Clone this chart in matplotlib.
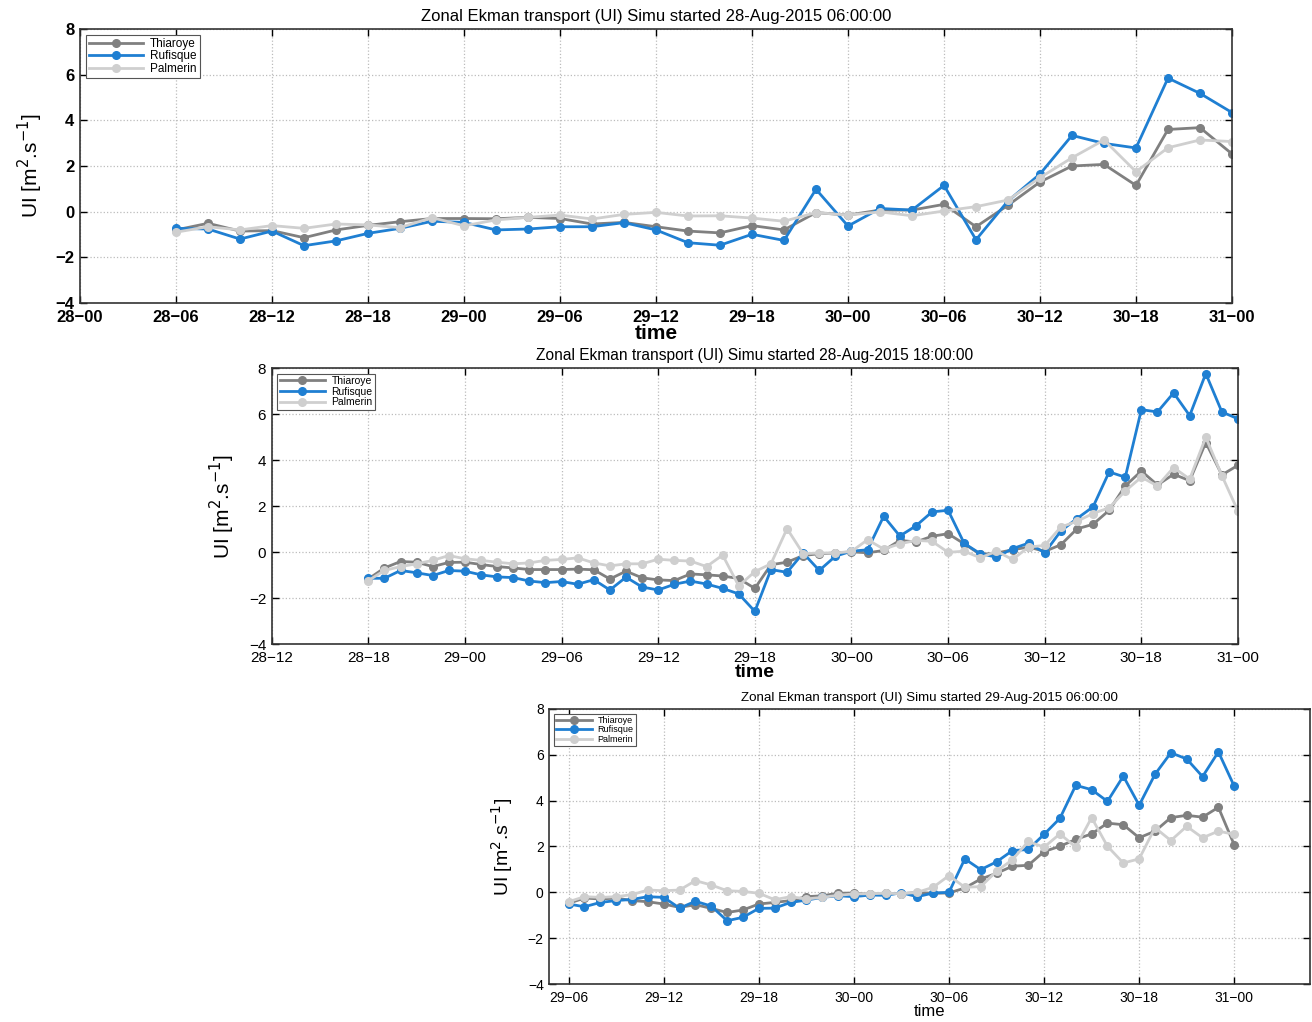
import numpy as np
import matplotlib
matplotlib.use('Agg')
import matplotlib.pyplot as plt

plt.rcParams['font.family'] = ['Liberation Sans', 'DejaVu Sans']

# station names and colours
stations = ['Thiaroye', 'Rufisque', 'Palmerin']
colors = ['#808080', '#1f7fd2', '#cfcfcf']

# tick labels (hours counted from 28-Aug 00:00)
tick_hours = [0, 6, 12, 18, 24, 30, 36, 42, 48, 54, 60, 66, 72]
tick_labels = ['28-00', '28-06', '28-12', '28-18', '29-00', '29-06', '29-12',
               '29-18', '30-00', '30-06', '30-12', '30-18', '31-00']

# run 1: started 28-Aug 06:00, output every 2 h
hours_1 = np.arange(6, 73, 2)
thiaroye_1 = [-0.8, -0.51, -0.85, -0.83, -1.14, -0.8, -0.6, -0.44, -0.3, -0.3,
              -0.31, -0.25, -0.3, -0.54, -0.47, -0.66, -0.85, -0.93, -0.61, -0.8,
              -0.04, -0.15, 0.07, 0.07, 0.32, -0.66, 0.28, 1.3, 2.0, 2.07,
              1.15, 3.6, 3.68, 2.53]
rufisque_1 = [-0.73, -0.76, -1.2, -0.85, -1.49, -1.28, -0.95, -0.73, -0.42, -0.47,
              -0.8, -0.76, -0.66, -0.66, -0.48, -0.8, -1.36, -1.47, -0.99, -1.26,
              0.98, -0.63, 0.14, 0.07, 1.15, -1.23, 0.47, 1.65, 3.34, 2.99,
              2.79, 5.85, 5.18, 4.34]
palmerin_1 = [-0.9, -0.66, -0.8, -0.61, -0.73, -0.54, -0.58, -0.7, -0.26, -0.62,
              -0.36, -0.25, -0.15, -0.32, -0.12, -0.03, -0.19, -0.18, -0.28, -0.42,
              -0.04, -0.15, -0.01, -0.18, 0.03, 0.22, 0.51, 1.49, 2.36, 3.14,
              1.75, 2.8, 3.14, 3.07]

# run 2: started 28-Aug 18:00, hourly
hours_2 = np.arange(18, 73, 1)
thiaroye_2 = [-1.17, -0.69, -0.41, -0.44, -0.63, -0.45, -0.44, -0.54, -0.63, -0.69,
              -0.76, -0.76, -0.76, -0.74, -0.77, -1.17, -0.83, -1.12, -1.21, -1.24,
              -0.95, -0.99, -1.04, -1.15, -1.58,
              -0.55, -0.44, -0.15, -0.07, -0.04, 0.01, -0.03, 0.07, 0.51, 0.44,
              0.69, 0.8, 0.36, -0.1, -0.04, 0.1, 0.22, 0.03, 0.32, 1.01,
              1.21, 1.82, 2.88, 3.53, 2.92, 3.39, 3.11, 4.77, 3.36, 3.78]
rufisque_2 = [-1.14, -1.14, -0.8, -0.9, -1.02, -0.8, -0.83, -0.99, -1.08, -1.11,
              -1.26, -1.33, -1.28, -1.4, -1.2, -1.65, -1.09, -1.52, -1.65, -1.4,
              -1.26, -1.39, -1.58, -1.82, -2.58,
              -0.76, -0.88, -0.04, -0.8, -0.18, 0.04, 0.1, 1.56, 0.7, 1.14,
              1.75, 1.82, 0.38, -0.07, -0.22, 0.15, 0.39, -0.03, 0.92, 1.46,
              1.97, 3.49, 3.26, 6.2, 6.1, 6.93, 5.94, 7.77, 6.1, 5.8]
palmerin_2 = [-1.24, -0.8, -0.63, -0.51, -0.36, -0.15, -0.29, -0.36, -0.44, -0.51,
              -0.47, -0.36, -0.32, -0.25, -0.47, -0.6, -0.51, -0.51, -0.31, -0.36,
              -0.39, -0.63, -0.13, -1.47, -0.85,
              -0.51, 1.02, -0.07, -0.04, -0.04, 0.03, 0.54, 0.13, 0.36, 0.51,
              0.47, -0.01, 0.04, -0.25, 0.04, -0.32, 0.22, 0.29, 1.09, 1.34,
              1.68, 1.93, 2.66, 3.26, 2.88, 3.68, 3.18, 5.0, 3.33, 1.78]

# run 3: started 29-Aug 06:00, hourly
hours_3 = np.arange(30, 73, 1)
thiaroye_3 = [-0.48, -0.25, -0.29, -0.25, -0.36, -0.41, -0.51, -0.66, -0.54, -0.7,
              -0.88, -0.77, -0.51, -0.44, -0.36, -0.19, -0.15, -0.04, -0.03, -0.09,
              -0.04, -0.06, -0.01, -0.04,
              -0.03, 0.19, 0.58, 0.83, 1.14, 1.18, 1.78, 2.01, 2.31, 2.55,
              3.02, 2.95, 2.38, 2.67, 3.26, 3.36, 3.28, 3.71, 2.07]
rufisque_3 = [-0.51, -0.63, -0.44, -0.36, -0.31, -0.19, -0.22, -0.69, -0.39, -0.6,
              -1.24, -1.09, -0.7, -0.69, -0.44, -0.34, -0.22, -0.15, -0.19, -0.12,
              -0.13, -0.02, -0.19, -0.03,
              0.0, 1.46, 0.99, 1.33, 1.82, 1.87, 2.53, 3.23, 4.67, 4.48,
              3.97, 5.07, 3.8, 5.15, 6.09, 5.82, 5.05, 6.13, 4.63]
palmerin_3 = [-0.41, -0.19, -0.22, -0.19, -0.1, 0.1, 0.07, 0.1, 0.51, 0.32,
              0.07, 0.04, -0.04, -0.32, -0.19, -0.29, -0.22, -0.13, -0.07, -0.06,
              -0.04, -0.06, 0.0, 0.22,
              0.73, 0.22, 0.25, 0.92, 1.42, 2.22, 1.97, 2.55, 1.97, 3.26,
              2.01, 1.28, 1.46, 2.82, 2.26, 2.88, 2.38, 2.67, 2.53]

titles = ['Zonal Ekman transport (UI) Simu started 28-Aug-2015 06:00:00',
          'Zonal Ekman transport (UI) Simu started 28-Aug-2015 18:00:00',
          'Zonal Ekman transport (UI) Simu started 29-Aug-2015 06:00:00']

W, H = 1312, 1022
fig = plt.figure(figsize=(W / 100, H / 100), dpi=100)


def px_axes(left, top, right, bottom):
    return fig.add_axes([left / W, 1 - bottom / H, (right - left) / W, (bottom - top) / H])


panels = [
    dict(box=(80, 29, 1232, 303), xlim=(0, 72), x=hours_1,
         y=[thiaroye_1, rufisque_1, palmerin_1], title=titles[0],
         tfs=12, tickfs=12, tickw='bold', xlfs=15, xlw='bold', ylfs=15,
         legfs=8.5, hl=4.6),
    dict(box=(271.7, 368.3, 1238, 644), xlim=(12, 72), x=hours_2,
         y=[thiaroye_2, rufisque_2, palmerin_2], title=titles[1],
         tfs=11.2, tickfs=11, tickw='normal', xlfs=14, xlw='bold', ylfs=15,
         legfs=7.5, hl=4.4),
    dict(box=(549.3, 709, 1310, 984), xlim=(28.78, 76.78), x=hours_3,
         y=[thiaroye_3, rufisque_3, palmerin_3], title=titles[2],
         tfs=9.6, tickfs=10, tickw='normal', xlfs=12, xlw='normal', ylfs=14,
         legfs=6.5, hl=4.0),
]

for p in panels:
    ax = px_axes(*p['box'])
    for name, col, vals in zip(stations, colors, p['y']):
        ax.plot(p['x'], vals, '-o', color=col, lw=2, ms=5.5, label=name)
    ax.set_xlim(*p['xlim'])
    ax.set_ylim(-4, 8)
    ax.set_yticks([-4, -2, 0, 2, 4, 6, 8])
    ticks = [(h, l) for h, l in zip(tick_hours, tick_labels) if p['xlim'][0] <= h <= p['xlim'][1]]
    ax.set_xticks([t[0] for t in ticks])
    ax.set_xticklabels([t[1].replace('-', '\u2212') for t in ticks])
    ax.tick_params(direction='in', length=5, top=True, right=True,
                   labelsize=p['tickfs'], width=1)
    ax.tick_params(axis='x', pad=5)
    ax.tick_params(axis='y', pad=4)
    for lab in ax.get_xticklabels() + ax.get_yticklabels():
        lab.set_fontweight(p['tickw'])
    ax.grid(True, linestyle=':', color='#bcbcbc', lw=0.9)
    for s in ax.spines.values():
        s.set_color('#333333')
        s.set_linewidth(1.2)
    ax.set_title(p['title'], fontsize=p['tfs'], pad=6)
    ax.set_xlabel('time', fontsize=p['xlfs'], fontweight=p['xlw'], labelpad=-1)
    ax.set_ylabel(r'UI [m$^{2}$.s$^{-1}$]', fontsize=p['ylfs'])
    ax.yaxis.set_label_coords(-0.03 * 1152 / (p['box'][2] - p['box'][0]), 0.5)
    leg = ax.legend(loc='upper left', fontsize=p['legfs'], fancybox=False,
                    edgecolor='#555555', framealpha=1, borderaxespad=0.5,
                    handlelength=p['hl'], labelspacing=0.05, borderpad=0.25,
                    handletextpad=0.6)
    leg.get_frame().set_linewidth(0.8)

fig.savefig('out.png', dpi=100)
